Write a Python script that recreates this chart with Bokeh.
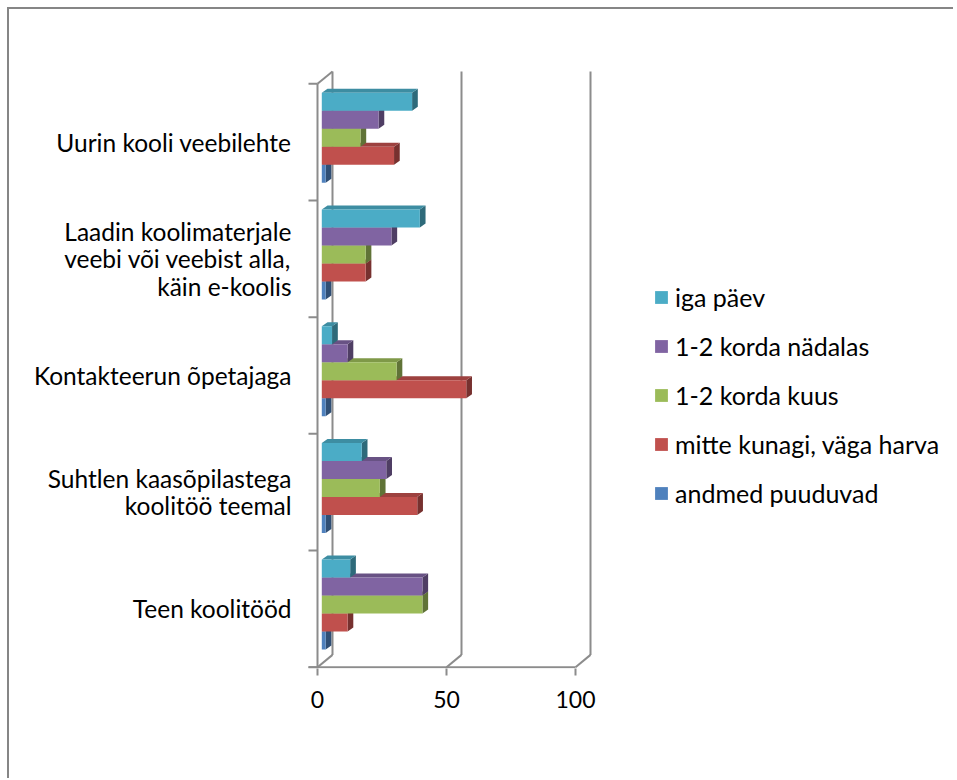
from bokeh.plotting import figure
from bokeh.layouts import column
from bokeh.models import Range1d, FixedTicker, Legend, LegendItem
from bokeh.embed import file_html
from bokeh.resources import INLINE

# ---------------- data ----------------
categories = [
    "Uurin kooli veebilehte",
    "Laadin koolimaterjale\nveebi või veebist alla,\nkäin e-koolis",
    "Kontakteerun õpetajaga",
    "Suhtlen kaasõpilastega\nkoolitöö teemal",
    "Teen koolitööd",
]
series_names = ["iga päev", "1-2 korda nädalas", "1-2 korda kuus",
                "mitte kunagi, väga harva", "andmed puuduvad"]
iga_paev = [35, 38, 4, 15.5, 11]
korda_nadalas = [22, 27, 10, 25, 39]
korda_kuus = [15, 17, 29, 22.5, 39]
mitte_kunagi = [28, 17, 56, 37, 10]
andmed_puuduvad = [1.5, 1.5, 1.5, 1.5, 1.5]
x_ticks = [0, 50, 100]

series_values = [iga_paev, korda_nadalas, korda_kuus, mitte_kunagi, andmed_puuduvad]
colors = ["#4BACC6", "#8064A2", "#9BBB59", "#C0504D", "#4F81BD"]

# ---------------- geometry (styling) ----------------
PX = 2.58        # px per value unit
PY = 116.67      # px per category
X0 = -17 / PX
FW, FH = 640, 599
X1 = X0 + FW / PX
Y1 = 5 + (83.33 - 69) / PY
Y0 = Y1 - FH / PY
WD_X = 15 / PX           # wall depth
WD_Y = 12.3 / PY
BAR_DX = 4.3 / PX        # bar depth placement
BAR_DY = 4.3 / PY
BAR_H = 18 / PY
EXT_X = 5.7 / PX         # bar extrusion
EXT_Y = 4.0 / PY
TICK_L = 9 / PX
GRID = "#8C8C8C"
FONT = "Lato"


def shade(hexcol, f):
    h = hexcol.lstrip("#")
    r, g, b = (int(h[i:i + 2], 16) for i in (0, 2, 4))
    return "#%02x%02x%02x" % (int(r * f), int(g * f), int(b * f))


p = figure(frame_width=FW, frame_height=FH,
           x_range=Range1d(X0, X1), y_range=Range1d(Y0, Y1),
           output_backend="svg", toolbar_location=None,
           min_border_left=291, min_border_top=60, min_border_right=13,
           min_border_bottom=110)
p.grid.visible = False
p.outline_line_color = None
p.background_fill_color = "white"
p.border_fill_color = "white"

ncat = len(categories)
cat_y = [ncat - 0.5 - k for k in range(ncat)]

# ---------------- walls ----------------
wx0, wy0, wx1, wy1 = [], [], [], []
for t in x_ticks:
    wx0.append(t + WD_X); wy0.append(WD_Y); wx1.append(t + WD_X); wy1.append(ncat + WD_Y)
    wx0.append(t); wy0.append(0); wx1.append(t + WD_X); wy1.append(WD_Y)
wx0 += [0, 0]; wy0 += [0, ncat]; wx1 += [0, WD_X]; wy1 += [ncat, ncat + WD_Y]
wx0.append(-TICK_L); wy0.append(0); wx1.append(x_ticks[-1]); wy1.append(0)
for k in range(ncat + 1):
    wx0.append(-TICK_L); wy0.append(k); wx1.append(0); wy1.append(k)
p.segment(x0=wx0, y0=wy0, x1=wx1, y1=wy1, line_color=GRID, line_width=2)

# ---------------- bars (draw bottom series first) ----------------
front_renderers = {}
for s in reversed(range(len(series_values))):
    vals = series_values[s]
    col = colors[s]
    tops = [yc + BAR_DY + 2.5 * BAR_H - s * BAR_H for yc in cat_y]
    bots = [t - BAR_H for t in tops]
    lefts = [BAR_DX] * ncat
    rights = [BAR_DX + v for v in vals]
    sxs = [[r, r, r + EXT_X, r + EXT_X] for r in rights]
    sys = [[b, t, t + EXT_Y, b + EXT_Y] for b, t in zip(bots, tops)]
    txs = [[l, r, r + EXT_X, l + EXT_X] for l, r in zip(lefts, rights)]
    tys = [[t, t, t + EXT_Y, t + EXT_Y] for t in tops]
    for i in range(ncat):
        p.patch(sxs[i], sys[i], fill_color=shade(col, 0.62), line_color=None)
        p.patch(txs[i], tys[i], fill_color=shade(col, 0.82), line_color=None)
        r = p.quad(left=[lefts[i]], right=[rights[i]], top=[tops[i]], bottom=[bots[i]],
                   fill_color=col, line_color=None)
        front_renderers.setdefault(s, r)

# ---------------- axes ----------------
p.xaxis.ticker = FixedTicker(ticks=x_ticks)
p.xaxis.axis_line_color = None
p.xaxis.major_tick_line_color = GRID
p.xaxis.major_tick_line_width = 2
p.xaxis.major_tick_in = 0
p.xaxis.major_tick_out = 7
p.xaxis.minor_tick_line_color = None
p.xaxis.major_label_text_font = FONT
p.xaxis.major_label_text_font_size = "23px"
p.xaxis.major_label_text_color = "black"
p.xaxis.major_label_standoff = 15

p.yaxis.ticker = FixedTicker(ticks=cat_y)
p.yaxis.major_label_overrides = {y: c for y, c in zip(cat_y, categories)}
p.yaxis.axis_line_color = None
p.yaxis.major_tick_line_color = None
p.yaxis.minor_tick_line_color = None
p.yaxis.major_label_text_font = FONT
p.yaxis.major_label_text_font_size = "24.5px"
p.yaxis.major_label_text_line_height = 0.95
p.yaxis.major_label_text_color = "black"
p.yaxis.major_label_standoff = 3

# ---------------- legend ----------------
items = [LegendItem(label=series_names[s], renderers=[front_renderers[s]])
         for s in range(len(series_names))]
legend = Legend(items=items, location=(353, 160), padding=0, margin=0,
                border_line_color=None, background_fill_alpha=0,
                glyph_width=16, glyph_height=16, label_standoff=6, spacing=19,
                label_text_font=FONT, label_text_font_size="25px",
                label_text_color="black")
p.add_layout(legend)

layout = column(p, styles={"margin-left": "7px", "margin-top": "7px",
                           "border-left": "2px solid #868686",
                           "border-top": "2px solid #868686"})

open("out.html", "w").write(file_html(layout, INLINE))
